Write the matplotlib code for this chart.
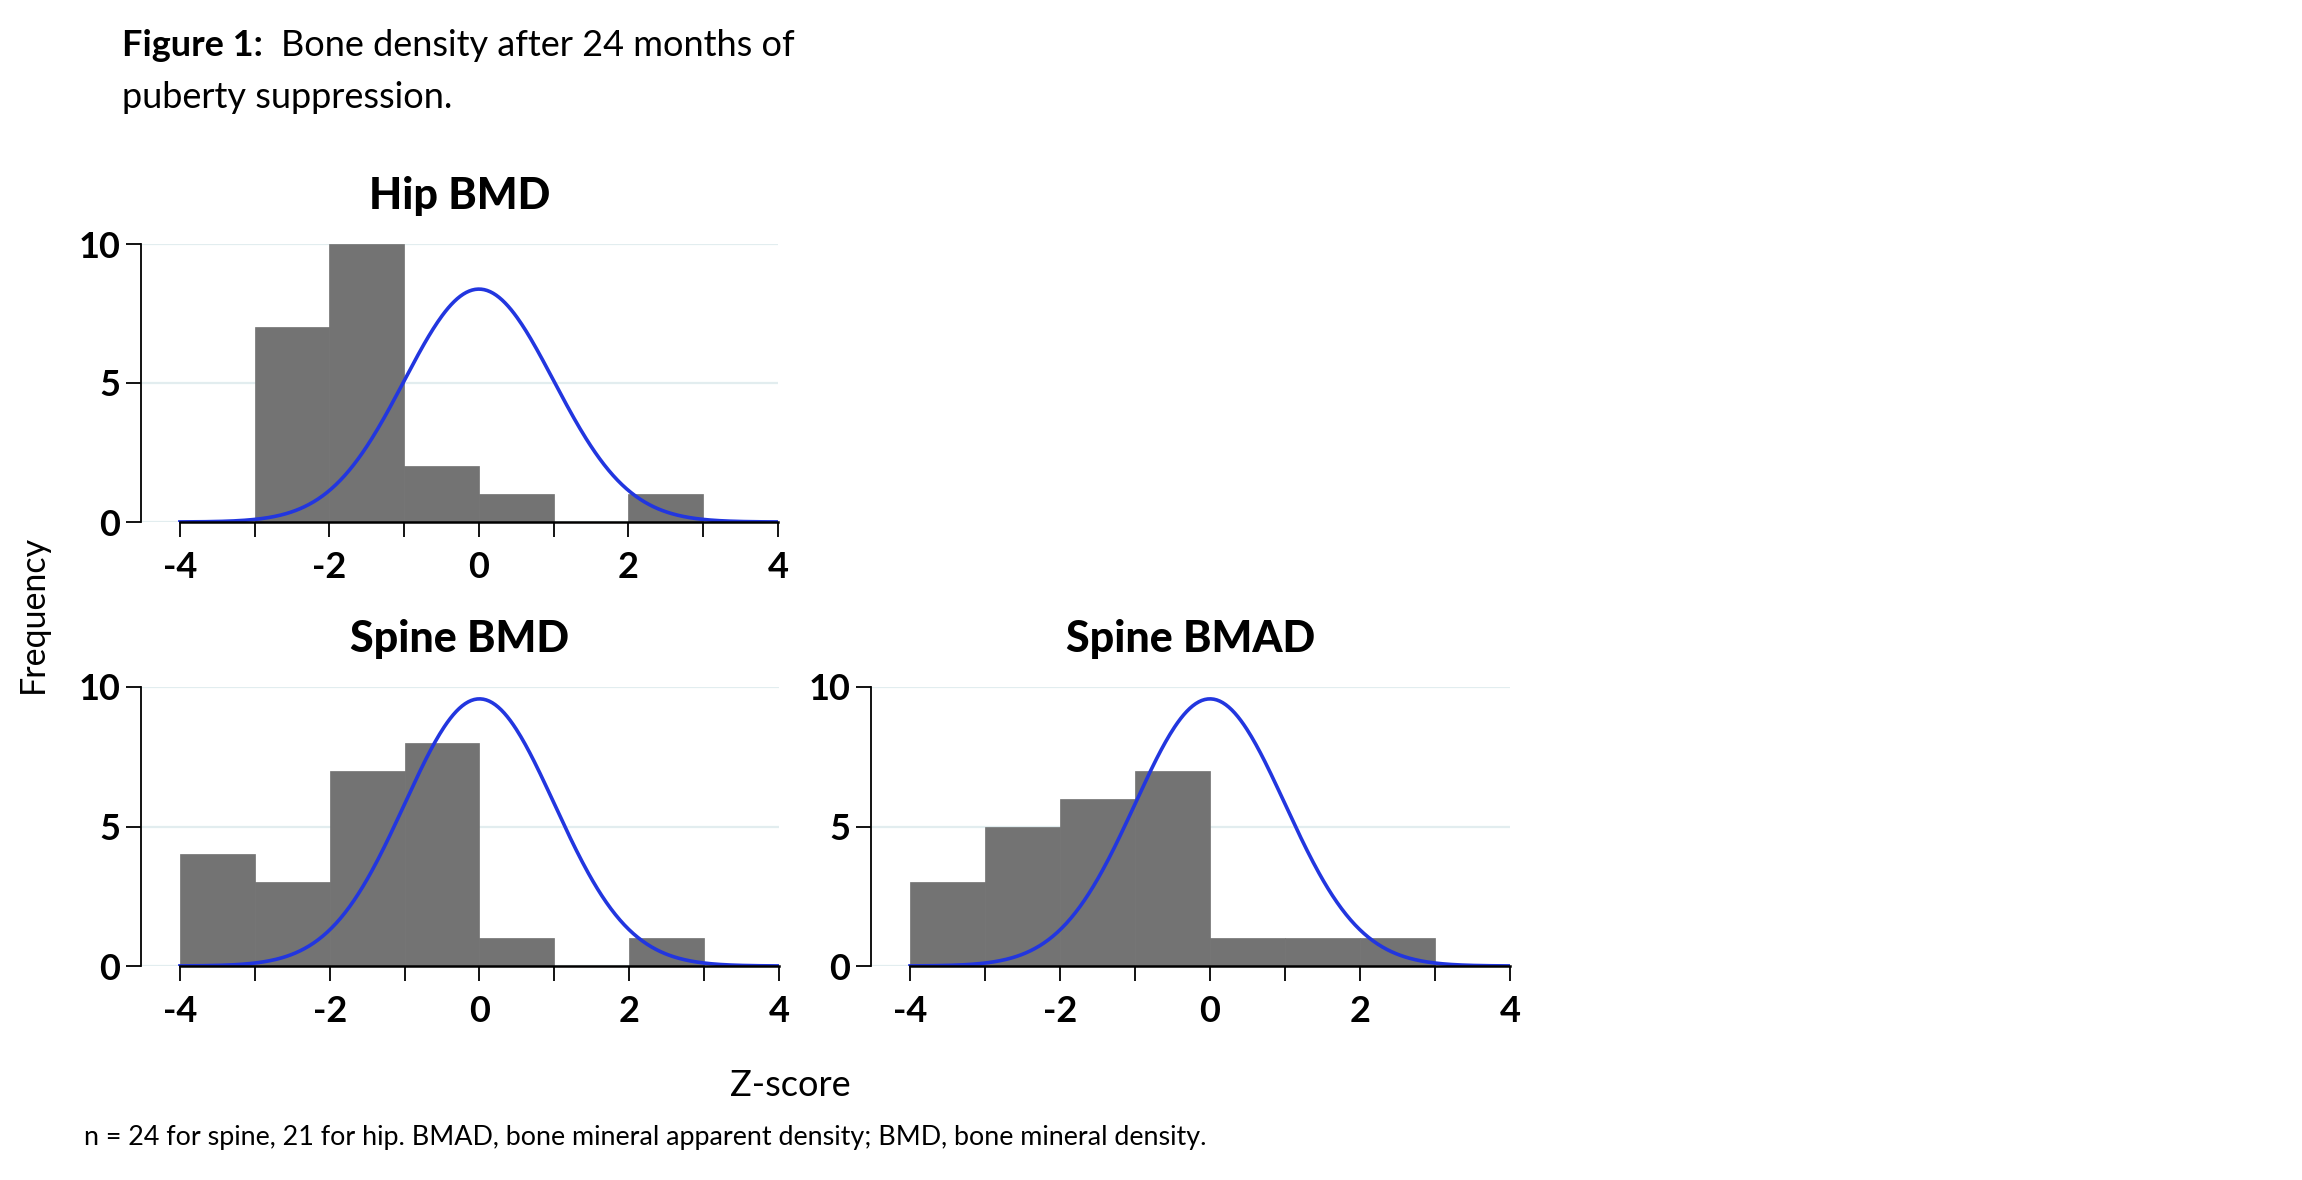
import numpy as np
import matplotlib
matplotlib.use('Agg')
import matplotlib.pyplot as plt

plt.rcParams['font.family'] = ['Lato', 'DejaVu Sans']

# histogram data (bin width 1, z-score)
bin_edges = [-4, -3, -2, -1, 0, 1, 2, 3]
hip_counts = [0, 7, 10, 2, 1, 0, 1]
spine_bmd_counts = [4, 3, 7, 8, 1, 0, 1]
spine_bmad_counts = [3, 5, 6, 7, 1, 1, 1]
n_hip = 21
n_spine = 24

bar_color = '#737373'
curve_color = '#2236df'
grid_color = '#e2edef'

W, H = 2302, 1180


def px_axes(fig, left, top, right, bottom):
    # pixel box -> figure fraction
    return fig.add_axes([left / W, 1 - bottom / H, (right - left) / W, (bottom - top) / H])


def draw_panel(ax, counts, n, title):
    edges = np.array(bin_edges, dtype=float)
    ax.bar(edges[:-1], counts, width=1.0, align='edge', color=bar_color,
           edgecolor=bar_color, linewidth=0.5, zorder=2)
    xs = np.linspace(-4, 4, 400)
    ys = n * np.exp(-xs ** 2 / 2) / np.sqrt(2 * np.pi)
    ax.plot(xs, ys, color=curve_color, linewidth=2.6, zorder=3)
    for g in [0, 5, 10]:
        ax.axhline(g, color=grid_color, linewidth=1.6, zorder=1)
    ax.set_xlim(-4.52, 4)
    ax.set_ylim(0, 10)
    ax.spines['top'].set_visible(False)
    ax.spines['right'].set_visible(False)
    ax.spines['bottom'].set_bounds(-4, 4)
    ax.spines['bottom'].set_zorder(4)
    ax.spines['left'].set_linewidth(1.3)
    ax.spines['bottom'].set_linewidth(1.8)
    ax.set_xticks([-4, -3, -2, -1, 0, 1, 2, 3, 4])
    ax.set_xticklabels(['-4', '', '-2', '', '0', '', '2', '', '4'])
    ax.set_yticks([0, 5, 10])
    ax.set_yticklabels(['0', '5', '10'])
    ax.tick_params(axis='x', length=11, width=1.3, pad=10, labelsize=26)
    ax.tick_params(axis='y', length=11, width=1.3, pad=4, labelsize=26)
    for lab in ax.get_xticklabels() + ax.get_yticklabels():
        lab.set_fontweight('bold')
    ax.set_title(title, fontsize=31, fontweight='black', pad=25)


fig = plt.figure(figsize=(W / 100, H / 100), dpi=100)

ax1 = px_axes(fig, 141, 244, 778, 522)
draw_panel(ax1, hip_counts, n_hip, 'Hip BMD')

ax2 = px_axes(fig, 141, 687, 779, 966)
draw_panel(ax2, spine_bmd_counts, n_spine, 'Spine BMD')

ax3 = px_axes(fig, 871, 687, 1510, 966)
draw_panel(ax3, spine_bmad_counts, n_spine, 'Spine BMAD')

fig.text(33 / W, 1 - 614 / H, 'Frequency', rotation=90, fontsize=24.5,
         ha='center', va='center')
fig.text(790 / W, 1 - 1086 / H, 'Z-score', fontsize=26, ha='center', va='center')

# caption: bold label followed by regular text
t1 = fig.text(122 / W, 1 - 45 / H, 'Figure 1:', fontsize=26, fontweight='bold',
              ha='left', va='center')
fig.canvas.draw()
bb = t1.get_window_extent(renderer=fig.canvas.get_renderer())
fig.text((bb.x1 + 18) / W, 1 - 45 / H, 'Bone density after 24 months of',
         fontsize=26, ha='left', va='center')
fig.text(122 / W, 1 - 98 / H, 'puberty suppression.', fontsize=26,
         ha='left', va='center')

fig.text(84 / W, 1 - 1138 / H,
         'n = 24 for spine, 21 for hip. BMAD, bone mineral apparent density; BMD, bone mineral density.',
         fontsize=19.4, ha='left', va='center')

plt.savefig('out.png', dpi=100)
